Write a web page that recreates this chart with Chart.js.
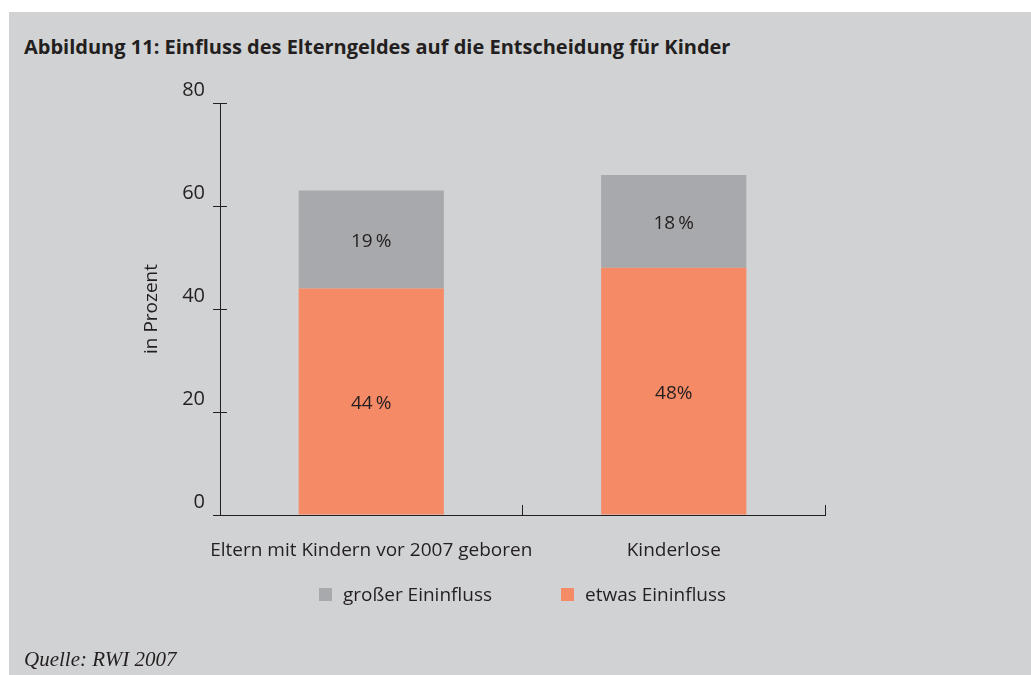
<!DOCTYPE html>
<html lang="de">
<head>
<meta charset="utf-8">
<title>Abbildung 11: Einfluss des Elterngeldes</title>
<script src="https://cdn.jsdelivr.net/npm/chart.js@4.4.1/dist/chart.umd.min.js"></script>
<style>
  html, body { margin: 0; padding: 0; background: #ffffff; }
  body { width: 1031px; height: 675px; position: relative; overflow: hidden;
         font-family: "Open Sans", sans-serif; color: #231f20; }
  #panel { position: absolute; left: 9px; top: 12px; right: 0; bottom: 0; background: #d1d2d4; }
  #chartBox { position: absolute; left: 0; top: 0; width: 1031px; height: 675px; }
  #title { position: absolute; left: 24px; top: 35px; line-height: 24px;
           font-size: 20px; font-weight: bold; white-space: nowrap; }
  #legend { position: absolute; left: 220px; width: 605px; top: 583px; height: 22px;
            display: flex; justify-content: center; gap: 69px; font-size: 19px; line-height: 22px; }
  .item { display: flex; align-items: center; white-space: nowrap; }
  .swatch { width: 13px; height: 13px; margin-right: 11px; }
  #source { position: absolute; left: 24px; top: 647px; line-height: 24px;
            font-family: "Liberation Serif", serif; font-style: italic; font-size: 21px; }
</style>
</head>
<body>
<div id="panel"></div>
<div id="title">Abbildung 11: Einfluss des Elterngeldes auf die Entscheidung für Kinder</div>
<div id="chartBox"><canvas id="myChart" width="1031" height="675"></canvas></div>
<div id="legend"></div>
<div id="source">Quelle: RWI 2007</div>
<script>
const categories = ["Eltern mit Kindern vor 2007 geboren", "Kinderlose"];
const etwasValues = [44, 48];
const grosserValues = [19, 18];
const etwasLabels = ["44\u2009%", "48%"];
const grosserLabels = ["19\u2009%", "18\u2009%"];
const yTicks = [0, 20, 40, 60, 80];

const textColor = "#231f20";
const orange = "#f58a66";
const grey = "#a8a9ac";
const baseFont = "'Open Sans', sans-serif";

// value labels in the middle of each bar segment
const barLabels = {
  id: "barLabels",
  afterDatasetsDraw(chart) {
    const ctx = chart.ctx;
    ctx.save();
    ctx.font = "19px " + baseFont;
    ctx.fillStyle = textColor;
    ctx.textAlign = "center";
    ctx.textBaseline = "middle";
    chart.data.datasets.forEach((ds, i) => {
      chart.getDatasetMeta(i).data.forEach((bar, j) => {
        const cy = (bar.y + bar.base) / 2;
        ctx.fillText(ds.valueLabels[j], bar.x, cy + 2);
      });
    });
    ctx.restore();
  },
};

// y tick marks cross the axis: draw the inner half
const innerTicks = {
  id: "innerTicks",
  afterDraw(chart) {
    const ctx = chart.ctx;
    const y = chart.scales.y;
    ctx.save();
    ctx.strokeStyle = textColor;
    ctx.lineWidth = 1;
    y.ticks.forEach((t) => {
      const py = Math.round(y.getPixelForValue(t.value)) + 0.5;
      ctx.beginPath();
      ctx.moveTo(chart.chartArea.left, py);
      ctx.lineTo(chart.chartArea.left + 7, py);
      ctx.stroke();
    });
    ctx.restore();
  },
};

const ctx = document.getElementById("myChart");
const Data = {
  labels: categories,
  datasets: [
    {
      label: "etwas Eininfluss",
      data: etwasValues,
      valueLabels: etwasLabels,
      backgroundColor: orange,
      borderWidth: 0,
      categoryPercentage: 1,
      barPercentage: 0.48,
    },
    {
      label: "großer Eininfluss",
      data: grosserValues,
      valueLabels: grosserLabels,
      backgroundColor: grey,
      borderWidth: 0,
      categoryPercentage: 1,
      barPercentage: 0.48,
    },
  ],
};

const Config = {
  type: "bar",
  data: Data,
  plugins: [barLabels, innerTicks],
  options: {
    responsive: false,
    animation: false,
    layout: { padding: { left: 140, right: 206, top: 103, bottom: 100 } },
    plugins: {
      legend: { display: false },
      tooltip: { enabled: false },
    },
    scales: {
      x: {
        stacked: true,
        afterFit: (s) => { s.height = 60; },
        border: { color: textColor, width: 1 },
        grid: { offset: true, drawOnChartArea: false, tickLength: -10, color: textColor },
        ticks: {
          color: textColor,
          padding: 34,
          maxRotation: 0,
          minRotation: 0,
          autoSkip: false,
          font: { family: baseFont, size: 19 },
        },
      },
      y: {
        stacked: true,
        min: 0,
        max: 80,
        afterFit: (s) => { s.width = 80; },
        afterBuildTicks: (s) => { s.ticks = yTicks.map((v) => ({ value: v })); },
        border: { color: textColor, width: 1 },
        grid: { drawOnChartArea: false, tickLength: 7, color: textColor },
        ticks: { color: textColor, padding: 8, labelOffset: -13, font: { family: baseFont, size: 20 } },
        title: {
          display: true,
          text: "in Prozent",
          color: textColor,
          padding: 0,
          font: { family: baseFont, size: 19 },
        },
      },
    },
  },
};
const myChart = new Chart(ctx, Config);

// legend in the order of the reference: grey first, then orange
const legend = document.getElementById("legend");
[1, 0].forEach((i) => {
  const ds = Data.datasets[i];
  const item = document.createElement("div");
  item.classList.add("item");
  const sw = document.createElement("span");
  sw.classList.add("swatch");
  sw.style.background = ds.backgroundColor;
  const tx = document.createElement("span");
  tx.innerText = ds.label;
  item.appendChild(sw);
  item.appendChild(tx);
  legend.appendChild(item);
});
</script>
</body>
</html>
